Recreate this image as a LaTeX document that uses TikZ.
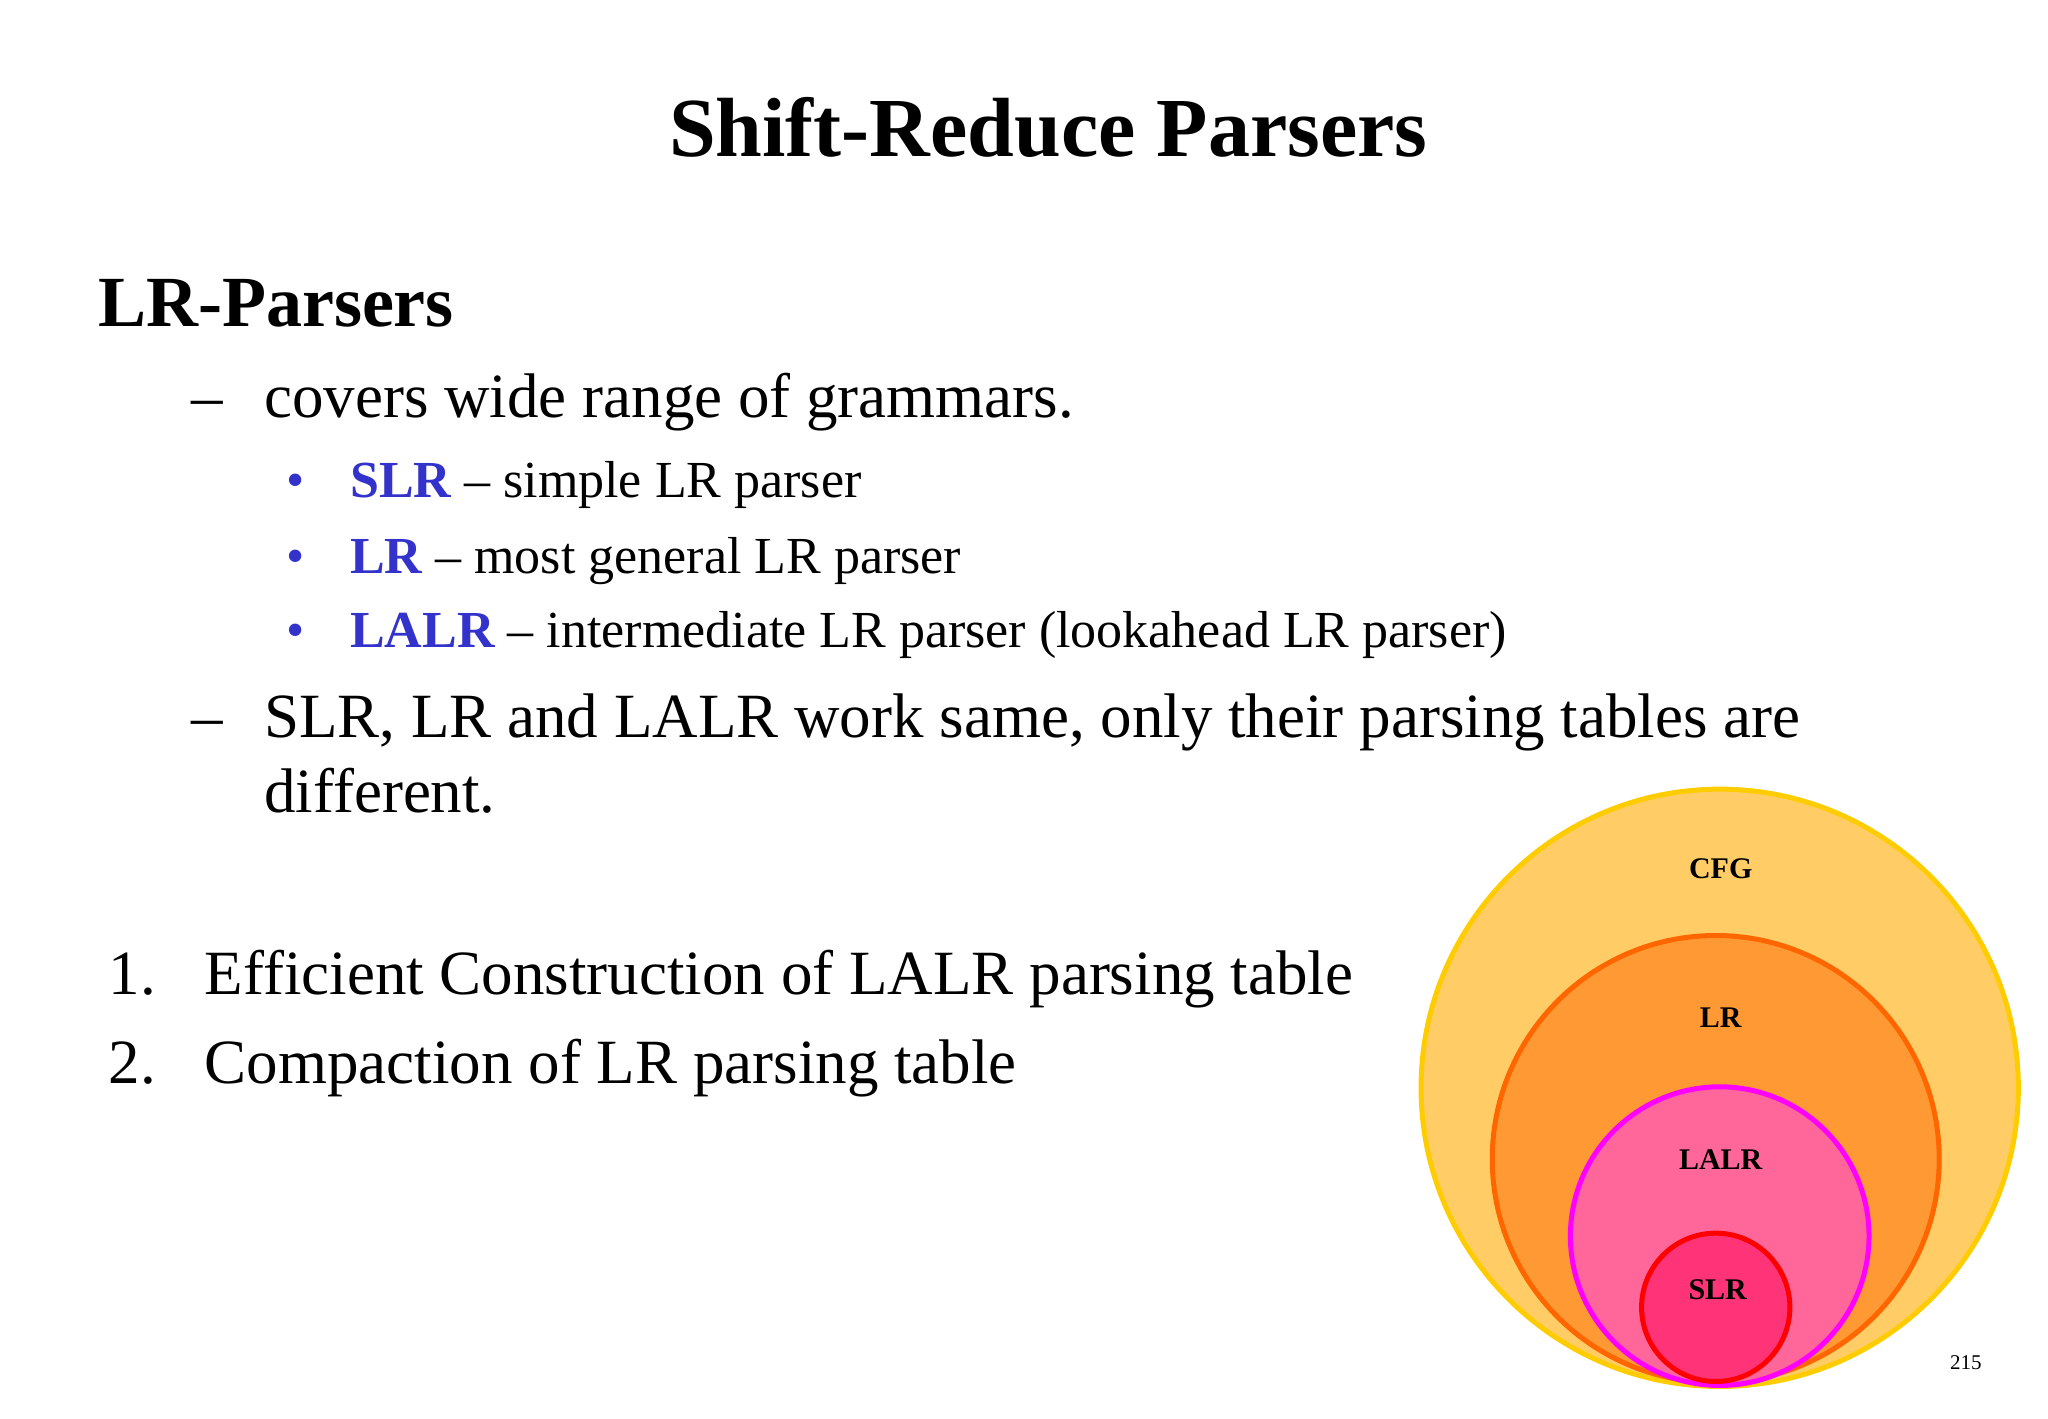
\documentclass[tikz,border=0pt]{standalone}
\usepackage{fontspec}
\setmainfont{Liberation Serif}
\definecolor{bl}{HTML}{3333CC}
\definecolor{c1d}{HTML}{FFCC00}\definecolor{c1f}{HTML}{FFCC66}
\definecolor{c2d}{HTML}{FF6600}\definecolor{c2f}{HTML}{FF9933}
\definecolor{c3d}{HTML}{FF00FF}\definecolor{c3f}{HTML}{FF6699}
\definecolor{c4d}{HTML}{FF0000}\definecolor{c4f}{HTML}{FF3377}
\begin{document}
\begin{tikzpicture}[x=0.989pt,y=-0.989pt,
  txt/.style={anchor=base west,inner sep=0pt,font=\fontsize{63}{65}\selectfont},
  sub/.style={anchor=base west,inner sep=0pt,font=\fontsize{52}{54}\selectfont},
  lab/.style={inner sep=0pt,font=\bfseries\fontsize{30}{32}\selectfont}]
\useasboundingbox (0,0) rectangle (2071,1434);
\node[anchor=base,inner sep=0pt,font=\bfseries\fontsize{84}{86}\selectfont] (title) at (1060,158) {Shift-Reduce Parsers};
\node[anchor=base west,inner sep=0pt,font=\bfseries\fontsize{72}{74}\selectfont] (lrp) at (99,330) {LR-Parsers};
\node[txt] (d1) at (193,422) {–};
\node[txt] (t1) at (267,422) {covers wide range of grammars.};
\node[sub,bl] (b1) at (290,503) {•};
\node[sub] (s1) at (354,503) {\textcolor{bl}{\bfseries SLR} – simple LR parser};
\node[sub,bl] (b2) at (290,580) {•};
\node[sub] (s2) at (354,580) {\textcolor{bl}{\bfseries LR} – most general LR parser};
\node[sub,bl] (b3) at (290,655) {•};
\node[sub] (s3) at (354,655) {\textcolor{bl}{\bfseries LALR} – intermediate LR parser (lookahead LR parser)};
\node[txt] (d2) at (193,746) {–};
\node[txt] (t2) at (267,746) {SLR, LR and LALR work same, only their parsing tables are};
\node[txt] (t3) at (267,822) {different.};
\node[txt] (n1) at (110,1006) {1.};
\node[txt] (e1) at (207,1006) {Efficient Construction of LALR parsing table};
\node[txt] (n2) at (110,1096) {2.};
\node[txt] (e2) at (207,1096) {Compaction of LR parsing table};
\draw[line width=5pt,draw=c1d,fill=c1f] (1739,1100) circle (302);
\draw[line width=5pt,draw=c2d,fill=c2f] (1735,1172) circle (226);
\draw[line width=5pt,draw=c3d,fill=c3f] (1739,1250) circle (151);
\draw[line width=5pt,draw=c4d,fill=c4f] (1735,1322) circle (75);
\node[lab] (cfg) at (1740,878) {CFG};
\node[lab] (lr) at (1740,1029) {LR};
\node[lab] (lalr) at (1740,1173) {LALR};
\node[lab] (slr) at (1737,1304) {SLR};
\node[inner sep=0pt,font=\fontsize{21}{23}\selectfont] (pg) at (1988,1378) {215};
\end{tikzpicture}
\end{document}
